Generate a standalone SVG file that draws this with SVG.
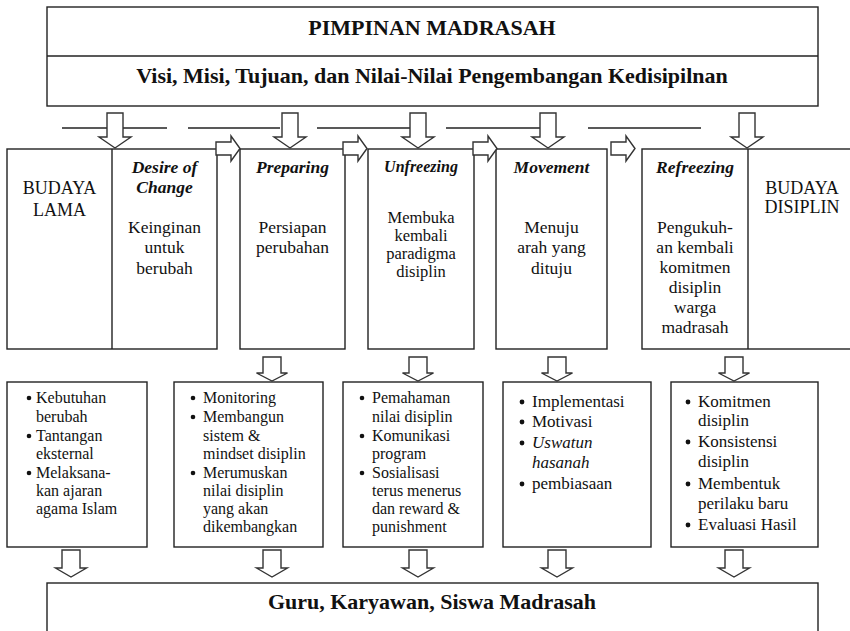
<svg xmlns="http://www.w3.org/2000/svg" width="850" height="631" viewBox="0 0 850 631">
<style>
.box{fill:#fff;stroke:#222;stroke-width:1.4}
.ln{stroke:#222;stroke-width:1.4;fill:none}
.arr{fill:#fff;stroke:#333;stroke-width:1.4;stroke-linejoin:miter}
text{font-family:"Liberation Serif","Times New Roman",serif;fill:#111}
.hd{font-size:22px;font-weight:bold;text-anchor:middle}
.t{font-size:17.5px;text-anchor:middle}
.tt{font-size:17.5px;font-weight:bold;font-style:italic;text-anchor:middle}
.b16{font-size:16px}
.b17{font-size:17px}
.bul{fill:#111}
</style>
<rect width="850" height="631" fill="#fff"/>

<g id="header">
<rect class="box" x="47" y="7" width="771" height="99"/>
<line class="ln" x1="47" y1="56" x2="818" y2="56"/>
<text class="hd" x="432" y="35">PIMPINAN MADRASAH</text>
<text class="hd" x="432" y="83">Visi, Misi, Tujuan, dan Nilai-Nilai Pengembangan Kedisipilnan</text>
</g>

<g id="connectors">
<line class="ln" x1="62" y1="128" x2="167" y2="128"/>
<line class="ln" x1="188" y1="128" x2="280" y2="128"/>
<line class="ln" x1="317" y1="128" x2="410" y2="128"/>
<line class="ln" x1="446" y1="128" x2="540" y2="128"/>
<line class="ln" x1="588" y1="128" x2="701" y2="128"/>
</g>

<g id="node-awal">
<rect class="box" x="7" y="149" width="210" height="200"/>
<line class="ln" x1="112" y1="149" x2="112" y2="349"/>
<text class="t" x="59.5" y="194" style="font-size:18px">BUDAYA</text>
<text class="t" x="59.5" y="216" style="font-size:18px">LAMA</text>
<text class="tt" x="164.5" y="173">Desire of</text>
<text class="tt" x="164.5" y="193">Change</text>
<text class="t" x="164.5" y="233">Keinginan</text>
<text class="t" x="164.5" y="253">untuk</text>
<text class="t" x="164.5" y="274">berubah</text>
</g>

<g id="node-preparing">
<rect class="box" x="240" y="149" width="105" height="200"/>
<text class="tt" x="292.5" y="173">Preparing</text>
<text class="t" x="292.5" y="233">Persiapan</text>
<text class="t" x="292.5" y="253">perubahan</text>
</g>

<g id="node-unfreezing">
<rect class="box" x="368" y="149" width="106" height="200"/>
<text class="tt" x="421" y="172" style="font-size:16px">Unfreezing</text>
<text class="t" x="421" y="223" style="font-size:16.5px">Membuka</text>
<text class="t" x="421" y="241" style="font-size:16.5px">kembali</text>
<text class="t" x="421" y="259" style="font-size:16.5px">paradigma</text>
<text class="t" x="421" y="277" style="font-size:16.5px">disiplin</text>
</g>

<g id="node-movement">
<rect class="box" x="496" y="149" width="111" height="200"/>
<text class="tt" x="551.5" y="173">Movement</text>
<text class="t" x="551.5" y="233">Menuju</text>
<text class="t" x="551.5" y="253">arah yang</text>
<text class="t" x="551.5" y="274">dituju</text>
</g>

<g id="node-refreezing">
<rect class="box" x="642" y="149" width="220" height="200"/>
<line class="ln" x1="748" y1="149" x2="748" y2="349"/>
<text class="tt" x="695" y="173">Refreezing</text>
<text class="t" x="695" y="233">Pengukuh-</text>
<text class="t" x="695" y="253">an kembali</text>
<text class="t" x="695" y="273">komitmen</text>
<text class="t" x="695" y="293">disiplin</text>
<text class="t" x="695" y="313">warga</text>
<text class="t" x="695" y="333">madrasah</text>
<text class="t" x="802" y="194" style="font-size:18px">BUDAYA</text>
<text class="t" x="802" y="213" style="font-size:18px">DISIPLIN</text>
</g>

<g id="list-1">
<rect class="box" x="7" y="382" width="140" height="165"/>
<circle class="bul" cx="29" cy="398" r="2.3"/>
<circle class="bul" cx="29" cy="436" r="2.3"/>
<circle class="bul" cx="29" cy="473" r="2.3"/>
<text class="b16" x="36" y="403">Kebutuhan</text>
<text class="b16" x="36" y="422">berubah</text>
<text class="b16" x="36" y="441">Tantangan</text>
<text class="b16" x="36" y="459">eksternal</text>
<text class="b16" x="36" y="478">Melaksana-</text>
<text class="b16" x="36" y="496">kan ajaran</text>
<text class="b16" x="36" y="514">agama Islam</text>
</g>

<g id="list-2">
<rect class="box" x="174" y="382" width="149" height="165"/>
<circle class="bul" cx="193" cy="398" r="2.3"/>
<circle class="bul" cx="193" cy="417" r="2.3"/>
<circle class="bul" cx="193" cy="473" r="2.3"/>
<text class="b16" x="203" y="403">Monitoring</text>
<text class="b16" x="203" y="422">Membangun</text>
<text class="b16" x="203" y="441">sistem &amp;</text>
<text class="b16" x="203" y="459">mindset disiplin</text>
<text class="b16" x="203" y="478">Merumuskan</text>
<text class="b16" x="203" y="496">nilai disiplin</text>
<text class="b16" x="203" y="514">yang akan</text>
<text class="b16" x="203" y="532">dikembangkan</text>
</g>

<g id="list-3">
<rect class="box" x="343" y="382" width="140" height="165"/>
<circle class="bul" cx="362" cy="398" r="2.3"/>
<circle class="bul" cx="362" cy="436" r="2.3"/>
<circle class="bul" cx="362" cy="473" r="2.3"/>
<text class="b16" x="372" y="403">Pemahaman</text>
<text class="b16" x="372" y="422">nilai disiplin</text>
<text class="b16" x="372" y="441">Komunikasi</text>
<text class="b16" x="372" y="459">program</text>
<text class="b16" x="372" y="478">Sosialisasi</text>
<text class="b16" x="372" y="496">terus menerus</text>
<text class="b16" x="372" y="514">dan reward &amp;</text>
<text class="b16" x="372" y="532">punishment</text>
</g>

<g id="list-4">
<rect class="box" x="503" y="382" width="148" height="165"/>
<circle class="bul" cx="522" cy="402" r="2.4"/>
<circle class="bul" cx="522" cy="422" r="2.4"/>
<circle class="bul" cx="522" cy="443" r="2.4"/>
<circle class="bul" cx="522" cy="484" r="2.4"/>
<text class="b17" x="532" y="407">Implementasi</text>
<text class="b17" x="532" y="427">Motivasi</text>
<text class="b17" x="532" y="448" font-style="italic">Uswatun</text>
<text class="b17" x="532" y="468" font-style="italic">hasanah</text>
<text class="b17" x="532" y="489">pembiasaan</text>
</g>

<g id="list-5">
<rect class="box" x="671" y="382" width="147" height="165"/>
<circle class="bul" cx="688" cy="402" r="2.4"/>
<circle class="bul" cx="688" cy="442" r="2.4"/>
<circle class="bul" cx="688" cy="484" r="2.4"/>
<circle class="bul" cx="688" cy="525" r="2.4"/>
<text class="b17" x="698" y="407">Komitmen</text>
<text class="b17" x="698" y="426">disiplin</text>
<text class="b17" x="698" y="447">Konsistensi</text>
<text class="b17" x="698" y="467">disiplin</text>
<text class="b17" x="698" y="489">Membentuk</text>
<text class="b17" x="698" y="509">perilaku baru</text>
<text class="b17" x="698" y="530">Evaluasi Hasil</text>
</g>

<g id="footer">
<rect class="box" x="47" y="583" width="771" height="60"/>
<text class="hd" x="432" y="609">Guru, Karyawan, Siswa Madrasah</text>
</g>

<g id="arrows">
<path class="arr" d="M107,113H123V137H131L115,148L99,137H107Z"/>
<path class="arr" d="M282,113H298V137H306L290,148L274,137H282Z"/>
<path class="arr" d="M410,113H426V137H434L418,148L402,137H410Z"/>
<path class="arr" d="M540,113H556V137H564L548,148L532,137H540Z"/>
<path class="arr" d="M739,113H755V137H763L747,148L731,137H739Z"/>

<path class="arr" d="M216,142H231V136L240,148.5L231,161V155H216Z"/>
<path class="arr" d="M343,142H358V136L367,148.5L358,161V155H343Z"/>
<path class="arr" d="M473,142H488V136L497,148.5L488,161V155H473Z"/>
<path class="arr" d="M611,142H626V136L635,148.5L626,161V155H611Z"/>

<path class="arr" d="M263,357H281V373H287.5L272,381L256.5,373H263Z"/>
<path class="arr" d="M409,357H427V373H433.5L418,381L402.5,373H409Z"/>
<path class="arr" d="M548,357H566V373H572.5L557,381L541.5,373H548Z"/>
<path class="arr" d="M725,357H743V373H749.5L734,381L718.5,373H725Z"/>

<path class="arr" d="M62,550H80V568H86.5L71,577L55.5,568H62Z"/>
<path class="arr" d="M263,550H281V568H287.5L272,577L256.5,568H263Z"/>
<path class="arr" d="M409,550H427V568H433.5L418,577L402.5,568H409Z"/>
<path class="arr" d="M548,550H566V568H572.5L557,577L541.5,568H548Z"/>
<path class="arr" d="M725,550H743V568H749.5L734,577L718.5,568H725Z"/>
</g>
</svg>
